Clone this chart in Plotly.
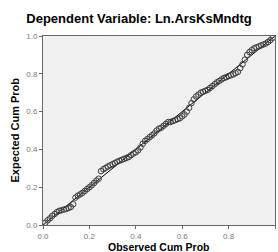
import plotly.graph_objects as go

observed = [0.01,0.02,0.03,0.04,0.05,0.06,0.07,0.08,0.09,0.10,
            0.11,0.12,0.13,0.14,0.15,0.16,0.17,0.18,0.19,0.20,
            0.21,0.22,0.23,0.24,0.25,0.26,0.27,0.28,0.29,0.30,
            0.31,0.32,0.33,0.34,0.35,0.36,0.37,0.38,0.39,0.40,
            0.41,0.42,0.43,0.44,0.45,0.46,0.47,0.48,0.49,0.50,
            0.51,0.52,0.53,0.54,0.55,0.56,0.57,0.58,0.59,0.60,
            0.61,0.62,0.63,0.64,0.65,0.66,0.67,0.68,0.69,0.70,
            0.71,0.72,0.73,0.74,0.75,0.76,0.77,0.78,0.79,0.80,
            0.81,0.82,0.83,0.84,0.85,0.86,0.87,0.88,0.89,0.90,
            0.91,0.92,0.93,0.94,0.95,0.96,0.97,0.98,0.99]
expected = [0.012,0.025,0.035,0.048,0.058,0.068,0.075,0.078,0.082,0.085,
            0.090,0.095,0.110,0.145,0.155,0.162,0.170,0.180,0.190,0.200,
            0.210,0.222,0.235,0.245,0.285,0.295,0.302,0.310,0.316,0.322,
            0.328,0.335,0.340,0.345,0.350,0.355,0.360,0.370,0.378,0.385,
            0.395,0.410,0.430,0.445,0.455,0.465,0.475,0.485,0.500,0.510,
            0.515,0.525,0.535,0.545,0.545,0.550,0.555,0.560,0.565,0.575,
            0.585,0.600,0.620,0.645,0.665,0.680,0.690,0.700,0.705,0.710,
            0.715,0.725,0.735,0.745,0.755,0.762,0.770,0.778,0.782,0.788,
            0.792,0.797,0.803,0.810,0.830,0.850,0.875,0.900,0.915,0.925,
            0.935,0.940,0.945,0.950,0.955,0.960,0.968,0.978,0.990]
ref_line = [0.0, 1.0]
tick_vals = [0.0, 0.2, 0.4, 0.6, 0.8, 1.0]
tick_text = ["0.0", "0.2", "0.4", "0.6", "0.8", "1.0"]

FONT = "Liberation Sans"

fig = go.Figure()
fig.add_trace(go.Scatter(x=ref_line, y=ref_line, mode="lines",
                         line=dict(color="black", width=1), showlegend=False))
fig.add_trace(go.Scatter(x=observed, y=expected, mode="markers",
                         marker=dict(symbol="circle-open", size=5.5,
                                     color="#3a3a3a", line=dict(width=1)),
                         showlegend=False))

axis_common = dict(range=[0, 1], tickvals=tick_vals, ticktext=tick_text,
                   showgrid=False, zeroline=False, showline=True, mirror=True,
                   linecolor="#666666", linewidth=1, ticks="outside", ticklen=3,
                   tickcolor="#666666", tickfont=dict(size=8, color="#777777",
                                                      family=FONT))
fig.update_xaxes(**axis_common)
fig.update_yaxes(**axis_common)

fig.update_layout(
    width=278, height=252,
    margin=dict(l=43, r=3, t=36, b=27),
    plot_bgcolor="#F0F0F0", paper_bgcolor="white",
    title=dict(text="<b>Dependent Variable: Ln.ArsKsMndtg</b>",
               x=139/278, xref="container", xanchor="center",
               y=1 - 18/252, yref="container", yanchor="middle",
               font=dict(size=13, color="black", family=FONT)),
    annotations=[
        dict(text="<b>Observed Cum Prob</b>", xref="paper", yref="paper",
             x=0.5, y=-(246.5 - 225) / 189, xanchor="center", yanchor="middle",
             showarrow=False, font=dict(size=10.5, color="black", family=FONT)),
        dict(text="<b>Expected Cum Prob</b>", xref="paper", yref="paper",
             x=-(43 - 14) / 232, y=0.5, xanchor="center", yanchor="middle",
             textangle=-90, showarrow=False,
             font=dict(size=11, color="black", family=FONT)),
    ],
)

fig.write_html("out.html", config={"displayModeBar": False},
               post_script="document.body.style.margin='0';document.body.style.overflow='hidden';")
